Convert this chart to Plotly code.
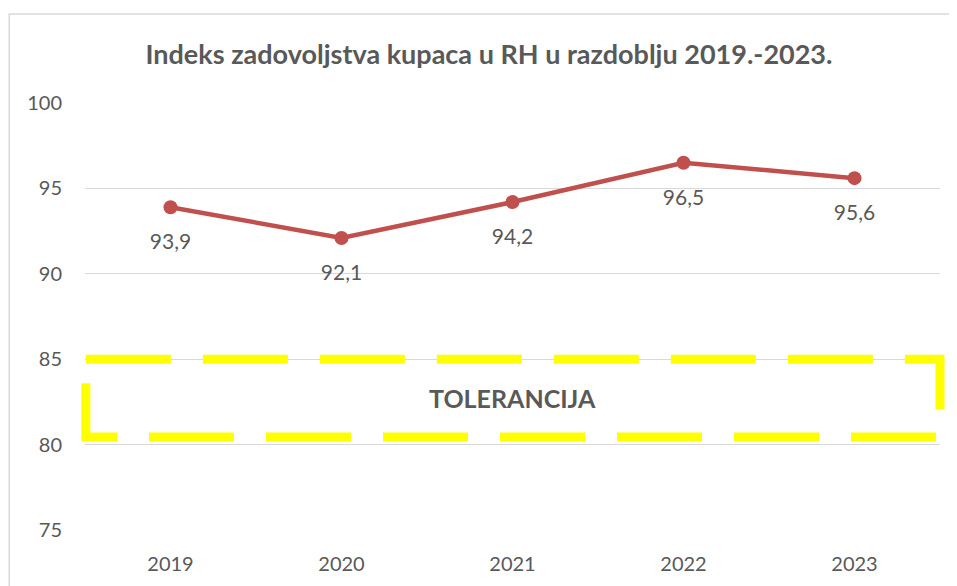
import plotly.graph_objects as go

years = ["2019", "2020", "2021", "2022", "2023"]
index_values = [93.9, 92.1, 94.2, 96.5, 95.6]
y_ticks = [75, 80, 85, 90, 95, 100]
tolerance_low = 80.44
tolerance_high = 85
tolerance_label = "TOLERANCIJA"
title = "Indeks zadovoljstva kupaca u RH u razdoblju 2019.-2023."

GRAY = "#595959"
FONT = "Lato"

fig = go.Figure()
fig.add_trace(go.Scatter(
    x=years, y=index_values, mode="lines+markers",
    line=dict(color="#C0504D", width=4.5),
    marker=dict(color="#C0504D", size=14),
    cliponaxis=False, showlegend=False, hoverinfo="x+y",
))
# data labels below the points (invisible large markers push text down)
fig.add_trace(go.Scatter(
    x=years, y=index_values, mode="markers+text",
    marker=dict(color="rgba(0,0,0,0)", size=40),
    texttemplate="%{y:.1f}", textposition="bottom center",
    textfont=dict(family=FONT, size=21, color=GRAY),
    cliponaxis=False, showlegend=False, hoverinfo="skip",
))

# tolerance band outline (dashed yellow)
fig.add_shape(
    type="path", xref="paper", yref="y",
    path=f"M 0.001,{tolerance_high} L 1.0,{tolerance_high} L 1.0,{tolerance_low} L 0.001,{tolerance_low} Z",
    line=dict(color="#FFFF00", width=9, dash="85px,32px"),
    layer="above",
)
fig.add_annotation(
    x=0.5, xref="paper", y=(tolerance_low + tolerance_high) / 2, yref="y",
    text=f"<b>{tolerance_label}</b>", showarrow=False,
    font=dict(family=FONT, size=25, color=GRAY),
)
# chart outer border
fig.add_shape(
    type="rect", xref="paper", yref="paper",
    x0=-0.0886, x1=1.06, y0=-0.25, y1=1.2084,
    line=dict(color="#D9D9D9", width=1.5), layer="below",
)

fig.update_layout(
    width=957, height=586,
    margin=dict(l=77, r=25, t=95, b=64),
    paper_bgcolor="white", plot_bgcolor="white",
    separators=", ",
    title=dict(text=f"<b>{title}</b>", x=0.5026, xanchor="center", y=0.92, yanchor="middle",
               font=dict(family=FONT, size=27, color=GRAY)),
    font=dict(family=FONT, color=GRAY),
    xaxis=dict(type="category", range=[-0.5, 4.5], showgrid=False, showline=False,
               zeroline=False, ticks="", tickfont=dict(size=20, color=GRAY),
               ticklabelstandoff=20),
    yaxis=dict(range=[75, 100], tickvals=y_ticks, showgrid=True, gridcolor="#D9D9D9",
               gridwidth=1.3, zeroline=False, showline=False, ticks="",
               tickfont=dict(size=20, color=GRAY), ticklabelstandoff=22),
)

fig.write_html("out.html")
